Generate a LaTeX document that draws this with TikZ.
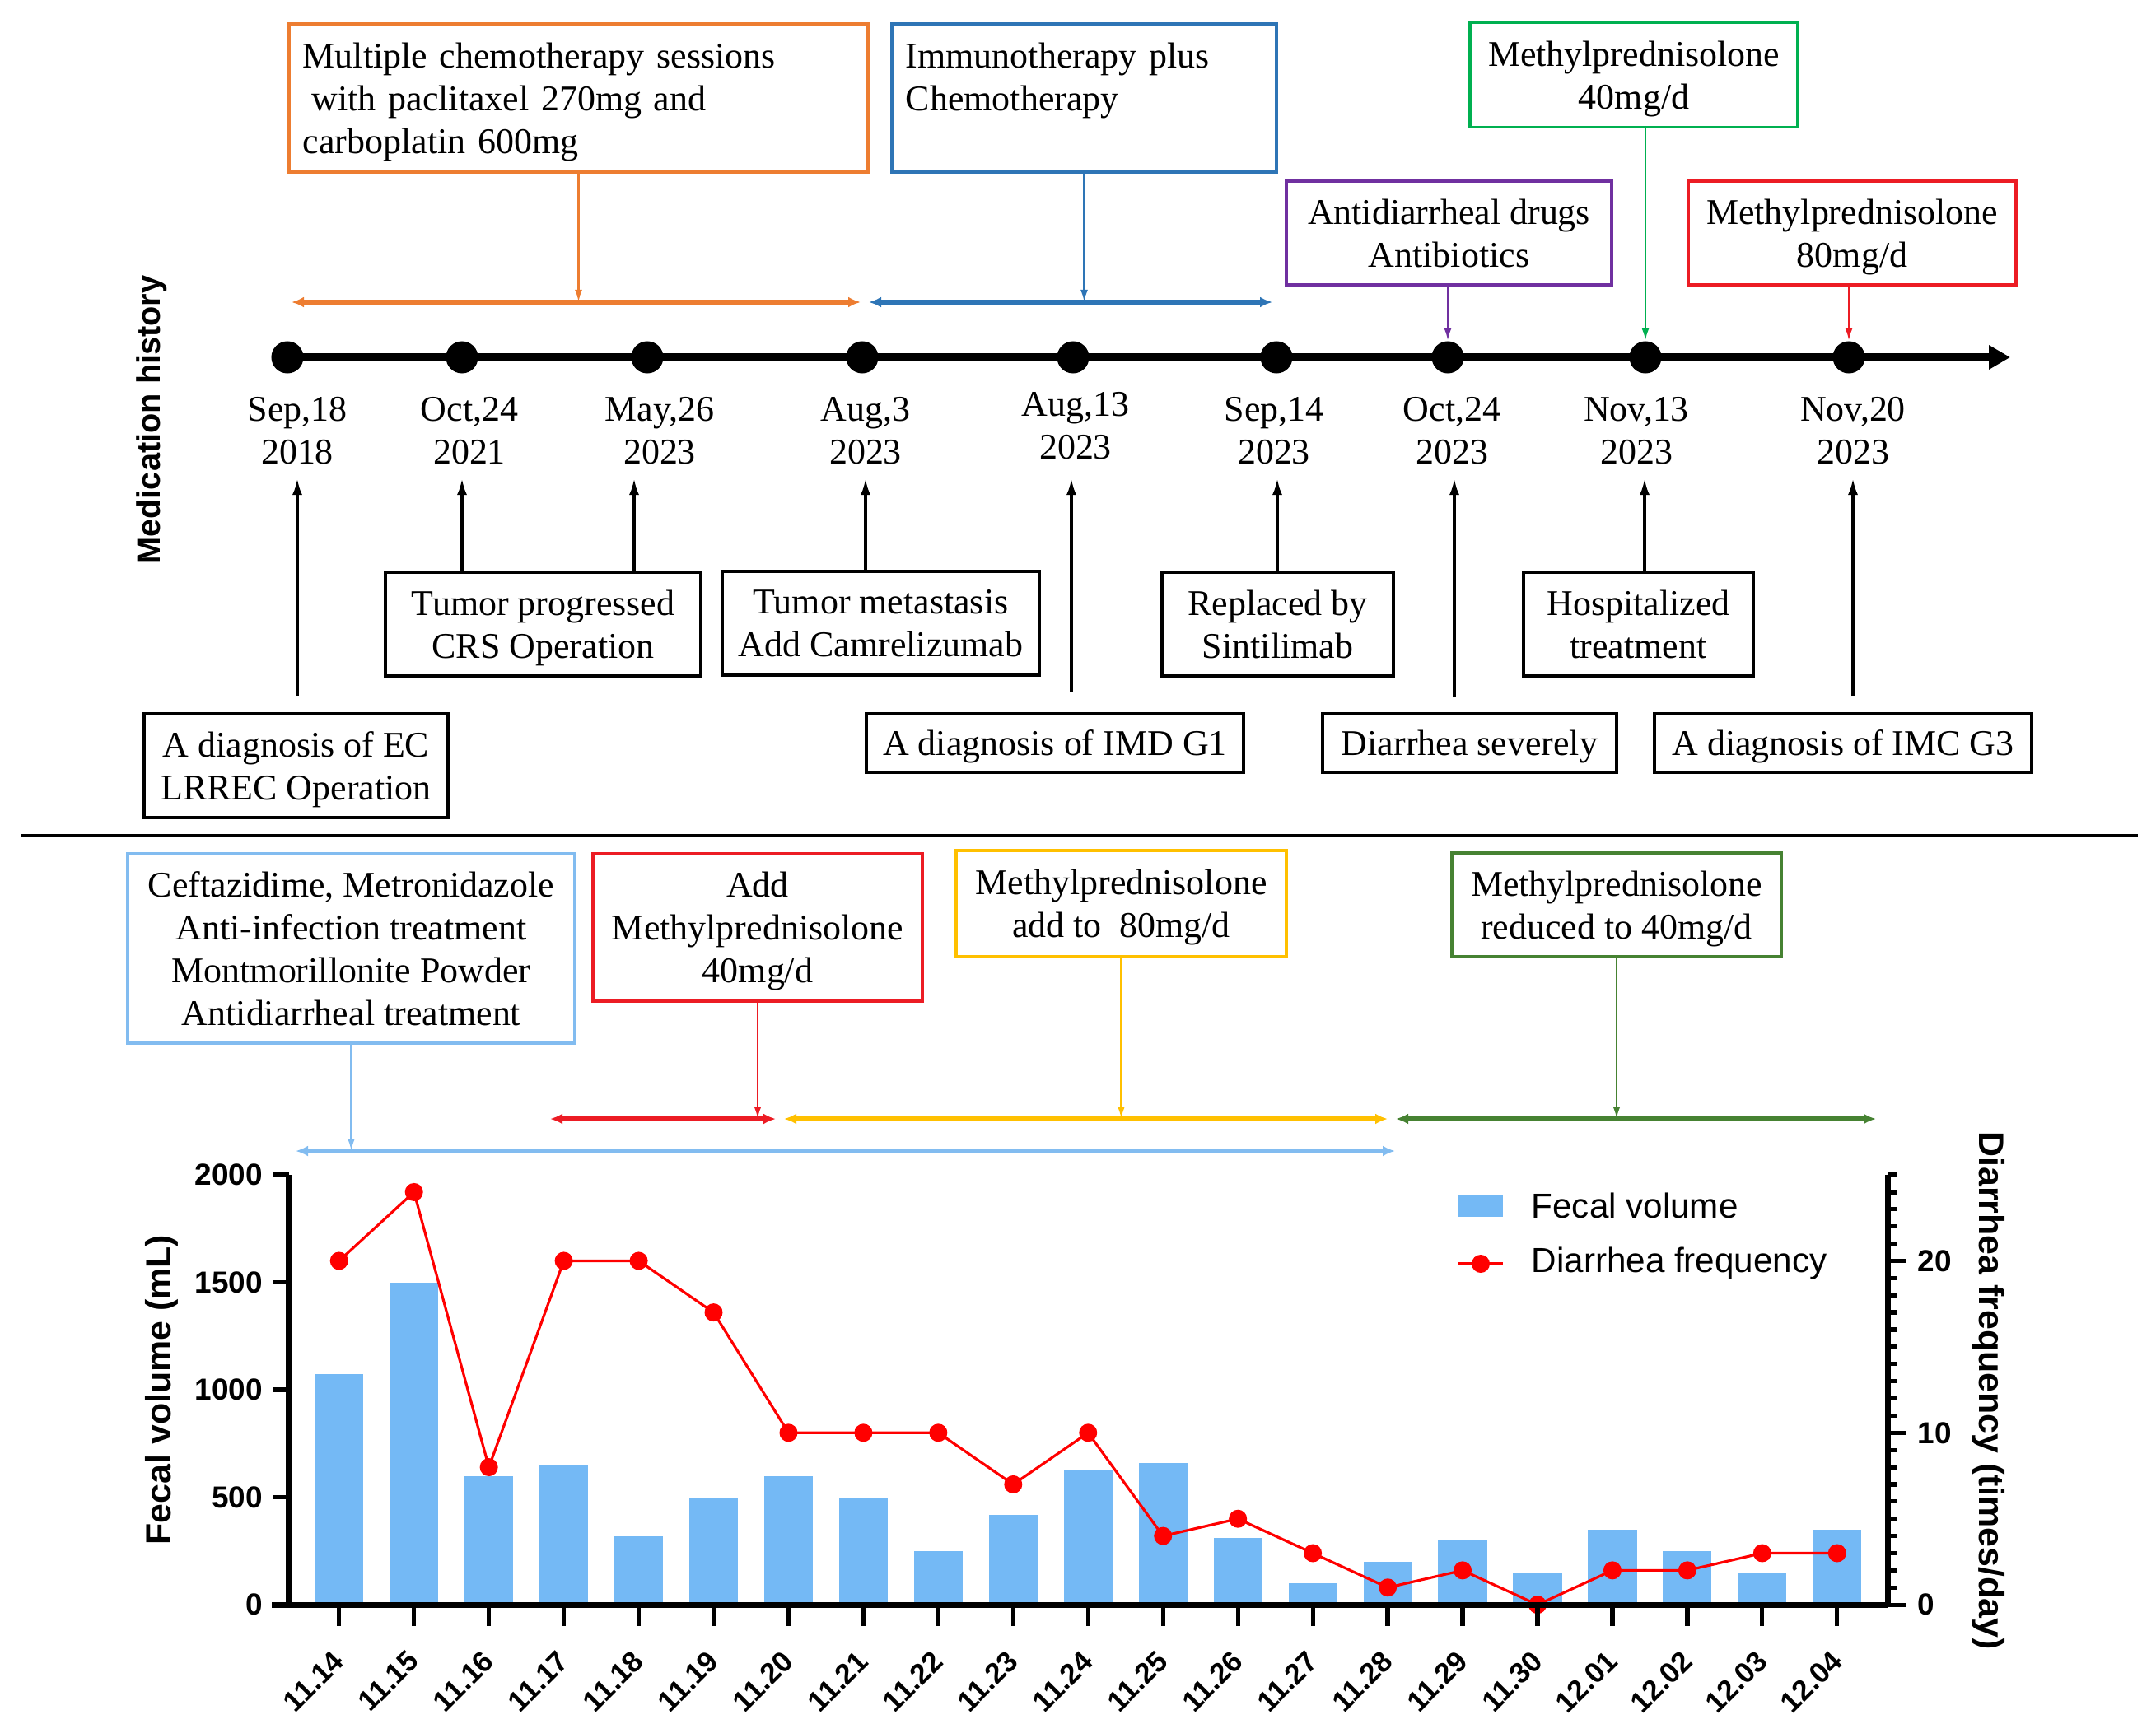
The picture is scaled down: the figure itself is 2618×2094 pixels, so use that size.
\documentclass[tikz,border=0pt]{standalone}
\usepackage{fontspec}
\setmainfont{Liberation Serif}
\setsansfont{Liberation Sans}
\usepackage{tikz}
\usetikzlibrary{arrows.meta}

\definecolor{chemoorange}{RGB}{237,125,49}
\definecolor{immunoblue}{RGB}{46,117,182}
\definecolor{mpgreen}{RGB}{0,176,80}
\definecolor{drugpurple}{RGB}{112,48,160}
\definecolor{mpred}{RGB}{236,28,36}
\definecolor{abxblue}{RGB}{130,188,240}
\definecolor{doseyellow}{RGB}{255,192,0}
\definecolor{tapergreen}{RGB}{70,130,50}
\definecolor{barblue}{RGB}{116,185,245}

\begin{document}
\begin{tikzpicture}[x=0.01cm, y=-0.01cm]
    \tikzstyle{dot_style} = [circle, fill=black, inner sep=0, minimum size=0.39cm]
    \tikzstyle{date_style} = [font=\fontsize{12.5}{14.8}\selectfont, align=center, inner sep=0]
    \tikzstyle{event_box} = [draw=black, line width=1.1pt, font=\fontsize{12.5}{14.8}\selectfont, align=center, inner sep=0, text depth=0pt, minimum height=1.26cm]
    \tikzstyle{med_box} = [draw, line width=1pt, font=\fontsize{12.5}{14.8}\selectfont, align=center, inner sep=0, text depth=0pt]
    \tikzstyle{wide_box} = [draw, line width=1pt, font=\fontsize{12.5}{14.8}\selectfont, align=left, inner xsep=0.17cm, inner ysep=0, minimum height=1.8cm]
    \tikzstyle{time_line} = [line width=2.9pt, -{Triangle[length=0.26cm,width=0.28cm]}]
    \tikzstyle{event_arrow} = [line width=1pt, -{Latex[length=0.2cm,width=0.12cm]}]
    \tikzstyle{med_link} = [line width=0.7pt, -{Latex[length=0.15cm,width=0.09cm]}]
    \tikzstyle{med_span} = [line width=1.5pt, {Latex[length=0.15cm,width=0.13cm]}-{Latex[length=0.15cm,width=0.13cm]}]
    \tikzstyle{axis_style} = [line width=2pt]
    \tikzstyle{tick_style} = [line width=1.5pt]
    \tikzstyle{tick_label} = [font=\sffamily\bfseries\fontsize{10.5}{12}\selectfont, inner sep=0]
    \tikzstyle{date_tick} = [font=\sffamily\bfseries\fontsize{10}{12}\selectfont, inner sep=0]
    \tikzstyle{axis_title} = [font=\sffamily\bfseries\fontsize{12.2}{14}\selectfont, inner sep=0]
    \tikzstyle{legend_label} = [font=\sffamily\fontsize{12}{14}\selectfont, inner sep=0, anchor=west]
    \tikzstyle{freq_line} = [draw=red, line width=0.9pt]

    \useasboundingbox (0,0) rectangle (2618,2094);

    % medication boxes above the timeline
    \node[wide_box, draw=chemoorange, text width=6.69cm] (chemo) at (702.5,119)
        {\rule{0pt}{0.4cm}Multiple chemotherapy sessions\\\hspace*{0.25em}with paclitaxel 270mg and\\carboplatin 600mg};
    \node[wide_box, draw=immunoblue, text width=4.33cm] (immuno) at (1316.5,119)
        {Immunotherapy plus\\Chemotherapy\\\mbox{}};
    \node[med_box, draw=mpgreen, minimum width=3.98cm, minimum height=1.27cm] (mp40) at (1984,91) {Methylprednisolone\\40mg/d};
    \node[med_box, draw=drugpurple, minimum width=3.95cm, minimum height=1.26cm] (drugs) at (1759.5,283) {Antidiarrheal drugs\\Antibiotics};
    \node[med_box, draw=mpred, minimum width=3.98cm, minimum height=1.26cm] (mp80) at (2249,283) {Methylprednisolone\\80mg/d};

    % timeline
    \node[dot_style] (t1) at (349,434) {};
    \node[dot_style] (t2) at (561,434) {};
    \node[dot_style] (t3) at (786,434) {};
    \node[dot_style] (t4) at (1047,434) {};
    \node[dot_style] (t5) at (1303,434) {};
    \node[dot_style] (t6) at (1550,434) {};
    \node[dot_style] (t7) at (1758,434) {};
    \node[dot_style] (t8) at (1998,434) {};
    \node[dot_style] (t9) at (2245,434) {};
    \coordinate (tend) at (2441,434);
    \draw[time_line] (t1.center) -- (tend);

    \coordinate (chemo_l) at (354,367);
    \coordinate (chemo_r) at (1045,367);
    \coordinate (immuno_l) at (1055,367);
    \coordinate (immuno_r) at (1545,367);
    \draw[med_span, chemoorange] (chemo_l) -- (chemo_r);
    \draw[med_span, immunoblue] (immuno_l) -- (immuno_r);
    \draw[med_link, chemoorange] (chemo.south) -- (chemo.south |- chemo_l);
    \draw[med_link, immunoblue] (immuno.south) -- (immuno.south |- immuno_l);
    \draw[med_link, drugpurple] (drugs.south -| t7) -- (t7.north);
    \draw[med_link, mpgreen] (mp40.south -| t8) -- (t8.north);
    \draw[med_link, mpred] (mp80.south -| t9) -- (t9.north);

    % dates
    \node[date_style] (d1) at (361,523) {Sep,18\\2018};
    \node[date_style] (d2) at (570,523) {Oct,24\\2021};
    \node[date_style] (d3) at (801,523) {May,26\\2023};
    \node[date_style] (d4) at (1051,523) {Aug,3\\2023};
    \node[date_style] (d5) at (1306,517) {Aug,13\\2023};
    \node[date_style] (d6) at (1547,523) {Sep,14\\2023};
    \node[date_style] (d7) at (1763,523) {Oct,24\\2023};
    \node[date_style] (d8) at (1987,523) {Nov,13\\2023};
    \node[date_style] (d9) at (2250,523) {Nov,20\\2023};

    % events below the timeline
    \node[event_box, minimum width=3.69cm] (ecbox) at (359.5,930) {A diagnosis of EC\\LRREC Operation};
    \node[event_box, minimum width=3.83cm] (progbox) at (659.5,758) {Tumor progressed\\CRS Operation};
    \node[event_box, minimum width=3.85cm] (metbox) at (1069.5,757) {Tumor metastasis\\Add Camrelizumab};
    \node[event_box, minimum width=2.81cm] (replbox) at (1551.5,758) {Replaced by\\Sintilimab};
    \node[event_box, minimum width=2.79cm] (hospbox) at (1989.5,758) {Hospitalized\\treatment};
    \node[event_box, minimum width=4.58cm, minimum height=0.71cm] (imdbox) at (1281,902.5) {A diagnosis of IMD G1};
    \node[event_box, minimum width=3.57cm, minimum height=0.71cm] (diarbox) at (1784.5,902.5) {Diarrhea severely};
    \node[event_box, minimum width=4.58cm, minimum height=0.71cm] (imcbox) at (2238,902.5) {A diagnosis of IMC G3};

    \coordinate (a1) at (361,581);
    \coordinate (a2) at (561,581);
    \coordinate (a3) at (770,581);
    \coordinate (a4) at (1051,581);
    \coordinate (a5) at (1301,581);
    \coordinate (a6) at (1551,581);
    \coordinate (a7) at (1766,581);
    \coordinate (a8) at (1997,581);
    \coordinate (a9) at (2250,581);
    \draw[event_arrow, shorten <=0.2cm] (ecbox.north -| a1) -- (a1);
    \draw[event_arrow] (progbox.north -| a2) -- (a2);
    \draw[event_arrow] (progbox.north -| a3) -- (a3);
    \draw[event_arrow] (metbox.north -| a4) -- (a4);
    \draw[event_arrow, shorten <=0.25cm] (imdbox.north -| a5) -- (a5);
    \draw[event_arrow] (replbox.north -| a6) -- (a6);
    \draw[event_arrow, shorten <=0.18cm] (diarbox.north -| a7) -- (a7);
    \draw[event_arrow] (hospbox.north -| a8) -- (a8);
    \draw[event_arrow, shorten <=0.2cm] (imcbox.north -| a9) -- (a9);

    \node[rotate=90, font=\sffamily\bfseries\fontsize{11.3}{13}\selectfont] (medhist) at (184,510) {Medication history};

    \coordinate (sep_l) at (25,1015);
    \coordinate (sep_r) at (2596,1015);
    \draw[line width=1.3pt] (sep_l) -- (sep_r);

    % treatment boxes above the chart
    \node[med_box, draw=abxblue, minimum width=5.43cm, minimum height=2.3cm] (abx) at (426.5,1152)
        {Ceftazidime, Metronidazole\\Anti-infection treatment\\Montmorillonite Powder\\Antidiarrheal treatment};
    \node[med_box, draw=mpred, minimum width=4cm, minimum height=1.79cm] (addmp) at (920,1126.5) {Add\\Methylprednisolone\\40mg/d};
    \node[med_box, draw=doseyellow, minimum width=4.01cm, minimum height=1.29cm] (mpup) at (1361.5,1097.5) {Methylprednisolone\\add to \ 80mg/d};
    \node[med_box, draw=tapergreen, minimum width=4cm, minimum height=1.26cm] (mpdown) at (1963,1099) {Methylprednisolone\\reduced to 40mg/d};

    \coordinate (add_l) at (668,1359);
    \coordinate (add_r) at (942,1359);
    \coordinate (up_l) at (952,1359);
    \coordinate (up_r) at (1685,1359);
    \coordinate (down_l) at (1695,1359);
    \coordinate (down_r) at (2278,1359);
    \coordinate (abx_l) at (359,1398);
    \coordinate (abx_r) at (1694,1398);
    \draw[med_span, mpred] (add_l) -- (add_r);
    \draw[med_span, doseyellow] (up_l) -- (up_r);
    \draw[med_span, tapergreen] (down_l) -- (down_r);
    \draw[med_span, abxblue] (abx_l) -- (abx_r);
    \draw[med_link, mpred] (addmp.south) -- (addmp.south |- add_l);
    \draw[med_link, doseyellow] (mpup.south) -- (mpup.south |- up_l);
    \draw[med_link, tapergreen] (mpdown.south) -- (mpdown.south |- down_l);
    \draw[med_link, abxblue] (abx.south) -- (abx.south |- abx_l);

    % chart
    \begin{scope}[shift={(4.115cm,-19.48cm)}, x=0.909cm, y=0.0026125cm]
        \foreach \i/\v in {0/1075,1/1500,2/600,3/650,4/320,5/500,6/600,7/500,8/250,9/420,10/630,
                           11/660,12/310,13/100,14/200,15/300,16/150,17/350,18/250,19/150,20/350}
            \fill[barblue] (\i-0.325,0) rectangle (\i+0.325,\v);
        \draw[freq_line] (0,1600) -- (1,1920) -- (2,640) -- (3,1600) -- (4,1600) -- (5,1360) -- (6,800)
            -- (7,800) -- (8,800) -- (9,560) -- (10,800) -- (11,320) -- (12,400) -- (13,240) -- (14,80)
            -- (15,160) -- (16,0) -- (17,160) -- (18,160) -- (19,240) -- (20,240);
        \foreach \i/\f in {0/20,1/24,2/8,3/20,4/20,5/17,6/10,7/10,8/10,9/7,10/10,
                           11/4,12/5,13/3,14/1,15/2,16/0,17/2,18/2,19/3,20/3}
            \fill[red] (\i,80*\f) circle (0.11cm);

        \draw[axis_style] (-0.671,2000) -- (-0.671,0);
        \draw[axis_style] (-0.896,0) -- (20.676,0);
        \draw[axis_style] (20.676,0) -- (20.676,2000);
        \foreach \v in {0,500,1000,1500,2000}
            \draw[tick_style] (-0.671,\v) -- ++(-0.2cm,0) node[tick_label, anchor=east, xshift=-0.09cm] {\v};
        \foreach \i/\d in {0/11.14,1/11.15,2/11.16,3/11.17,4/11.18,5/11.19,6/11.20,7/11.21,8/11.22,9/11.23,
                           10/11.24,11/11.25,12/11.26,13/11.27,14/11.28,15/11.29,16/11.30,17/12.01,18/12.02,19/12.03,20/12.04}
        {
            \draw[tick_style] (\i,0) -- ++(0,-0.26cm);
            \node[date_tick, anchor=east, rotate=45] (xl\i) at ([yshift=-0.62cm]\i,0) {\d};
        }
        \foreach \f in {0,...,25}
            \draw[tick_style] (20.676,80*\f) -- ++(0.12cm,0);
        \foreach \f in {0,10,20}
            \draw[tick_style] (20.676,80*\f) -- ++(0.22cm,0) node[tick_label, anchor=west, xshift=0.12cm] {\f};
    \end{scope}

    % legend
    \fill[barblue] (1771,1451) rectangle (1825,1478);
    \node[legend_label] (leg_vol) at (1859,1464) {Fecal volume};
    \draw[freq_line] (1771,1535) -- (1825,1535);
    \fill[red] (1798,1535) circle (0.11cm);
    \node[legend_label] (leg_freq) at (1859,1535) {Diarrhea frequency};

    \node[axis_title, rotate=90] (ylab_l) at (196,1688) {Fecal volume (mL)};
    \node[axis_title, rotate=-90] (ylab_r) at (2415,1689) {Diarrhea frequency (times/day)};
\end{tikzpicture}
\end{document}
